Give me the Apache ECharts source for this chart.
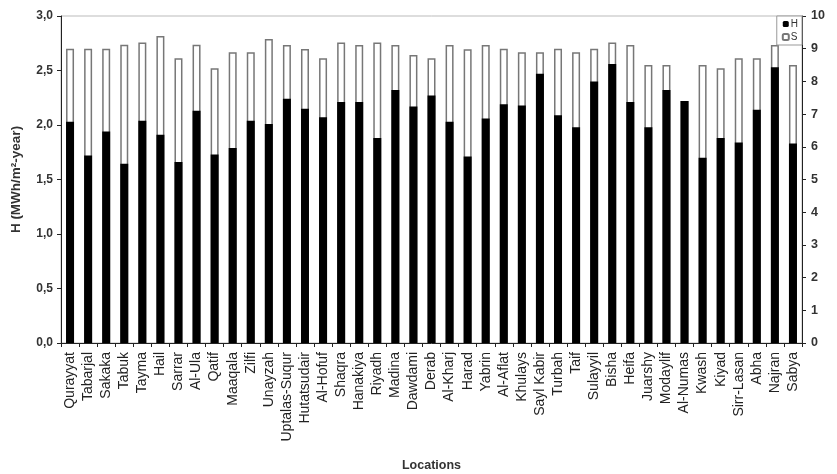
<!DOCTYPE html>
<html>
<head>
<meta charset="utf-8">
<script src="https://cdn.jsdelivr.net/npm/echarts@6/dist/echarts.min.js"></script>
<style>html,body{margin:0;padding:0;background:#fff}#c{width:837px;height:474px}</style>
</head>
<body>
<div id="c"></div>
<script>
const categories = ["Qurayyat","Tabarjal","Sakaka","Tabuk","Tayma","Hail","Sarrar","Al-Ula","Qatif","Maaqala","Zilfi","Unayzah","Uptalas-Suqur","Hutatsudair","Al-Hofuf","Shaqra","Hanakiya","Riyadh","Madina","Dawdami","Derab","Al-Kharj","Harad","Yabrin","Al-Aflat","Khulays","Sayl Kabir","Turbah","Taif","Sulayyil","Bisha","Heifa","Juarshy","Modaylif","Al-Numas","Kwash","Kiyad","Sirr-Lasan","Abha","Najran","Sabya"];
const H = [2.03,1.72,1.94,1.645,2.04,1.91,1.66,2.13,1.73,1.79,2.04,2.01,2.24,2.15,2.07,2.21,2.21,1.88,2.32,2.17,2.27,2.03,1.71,2.06,2.19,2.18,2.47,2.09,1.98,2.40,2.56,2.21,1.98,2.32,2.22,1.70,1.88,1.84,2.14,2.53,1.83];
const S = [9.0,9.0,9.0,9.12,9.19,9.39,8.71,9.12,8.40,8.89,8.89,9.30,9.11,8.99,8.71,9.19,9.11,9.19,9.11,8.81,8.71,9.11,8.98,9.11,9.0,8.89,8.89,9.0,8.89,9.0,9.19,9.11,8.50,8.50,7.40,8.50,8.40,8.71,8.71,9.11,8.50];
const hTicks = {min:0, max:3, interval:0.5};
const sTicks = {min:0, max:10, interval:1};

const FONT = 'Liberation Sans, Arial, sans-serif';
const chart = echarts.init(document.getElementById('c'), null, {renderer:'canvas'});
chart.setOption({
  animation:false,
  backgroundColor:'#fff',
  grid:{left:61, right:35, top:16, bottom:131, show:true, borderColor:'#bbb', borderWidth:1, containLabel:false, outerBoundsMode:'none'},
  legend:{
    data:[{name:'H'},{name:'S'}],
    orient:'vertical', right:35, top:16,
    itemWidth:6, itemHeight:6, itemGap:3,
    padding:[3,4,3,5],
    borderColor:'#999', borderWidth:1,
    backgroundColor:'#fff',
    textStyle:{fontSize:10, color:'#333', fontFamily:FONT, padding:[0,0,0,-3]}
  },
  xAxis:{
    type:'category', data:categories,
    name:'Locations', nameLocation:'middle', nameGap:116,
    nameTextStyle:{fontSize:12.5, fontWeight:'bold', color:'#333', fontFamily:FONT},
    axisLine:{lineStyle:{color:'#222', width:1}},
    axisTick:{show:true, length:4, lineStyle:{color:'#222'}},
    axisLabel:{rotate:90, interval:0, fontSize:14, margin:9, color:'#222', fontFamily:FONT},
    splitLine:{show:false}
  },
  yAxis:[
    {
      type:'value', min:hTicks.min, max:hTicks.max, interval:hTicks.interval, position:'left',
      name:'H (MWh/m²-year)', nameLocation:'middle', nameGap:38, nameRotate:90,
      nameTextStyle:{fontSize:13.5, fontWeight:'bold', color:'#333', fontFamily:FONT},
      axisLine:{show:true, lineStyle:{color:'#222'}},
      axisTick:{show:true, length:4, lineStyle:{color:'#222'}},
      axisLabel:{fontSize:12, fontWeight:'bold', margin:8, color:'#333', fontFamily:FONT, formatter:v=>v.toFixed(1).replace('.', ',')},
      splitLine:{show:false}
    },
    {
      type:'value', min:sTicks.min, max:sTicks.max, interval:sTicks.interval, position:'right',
      name:'S (h)', nameLocation:'middle', nameGap:31, nameRotate:90,
      nameTextStyle:{fontSize:13.5, fontWeight:'bold', color:'#333', fontFamily:FONT},
      axisLine:{show:true, lineStyle:{color:'#222'}},
      axisTick:{show:true, length:4, lineStyle:{color:'#222'}},
      axisLabel:{fontSize:12.5, fontWeight:'bold', margin:9, color:'#333', fontFamily:FONT},
      splitLine:{show:false}
    }
  ],
  series:[
    {
      name:'S', type:'bar', yAxisIndex:1, data:S, barWidth:8, barGap:'-100%', z:2,
      itemStyle:{color:'#fff', borderColor:'#777', borderWidth:1.5}
    },
    {
      name:'H', type:'bar', yAxisIndex:0, data:H, barWidth:8, barGap:'-100%', z:3,
      itemStyle:{color:'#000'}
    }
  ]
});
</script>
</body>
</html>
